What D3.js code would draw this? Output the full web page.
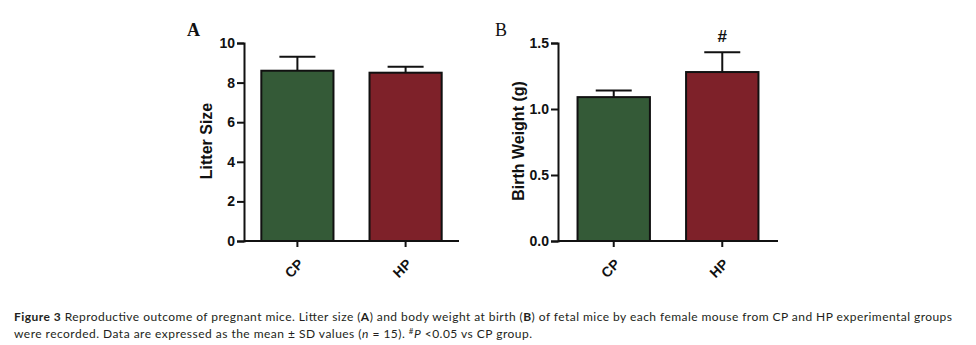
<!DOCTYPE html>
<html>
<head>
<meta charset="utf-8">
<script src="https://cdn.jsdelivr.net/npm/d3@7"></script>
<style>
  body { margin: 0; background: #fff; }
  svg { display: block; }
</style>
</head>
<body>
<script>
// data
const groups = ["CP", "HP"];
const litterMean = [8.6, 8.5];
const litterSD = [0.7, 0.3];
const weightMean = [1.09, 1.28];
const weightSD = [0.05, 0.15];
const litterTicks = [0, 2, 4, 6, 8, 10];
const weightTicks = [0, 0.5, 1.0, 1.5];
const barColors = ["#345a37", "#7e2129"];
const signif = ["", "#"];

const sans = "'Liberation Sans', Arial, sans-serif";

const svg = d3.select("body").append("svg")
    .attr("width", 976)
    .attr("height", 345);

function drawPanel(p) {
    const x = d3.scaleBand().domain(groups)
        .range([p.left, p.right])
        .paddingInner(0.333)
        .paddingOuter(p.outer);
    const y = d3.scaleLinear().domain(p.domain).range([241, 43]);
    const g = svg.append("g");

    // bars
    g.selectAll("rect.bar").data(groups).enter()
        .append("rect")
        .attr("class", "bar")
        .attr("x", d => x(d))
        .attr("y", (d, i) => y(p.mean[i]))
        .attr("width", x.bandwidth())
        .attr("height", (d, i) => y(0) - y(p.mean[i]))
        .attr("fill", (d, i) => barColors[i])
        .attr("stroke", "#111")
        .attr("stroke-width", 2);

    // error bars (upper only)
    const eb = g.selectAll("g.err").data(groups).enter().append("g").attr("class", "err");
    eb.append("line")
        .attr("x1", d => x(d) + x.bandwidth() / 2)
        .attr("x2", d => x(d) + x.bandwidth() / 2)
        .attr("y1", (d, i) => y(p.mean[i]))
        .attr("y2", (d, i) => y(p.mean[i] + p.sd[i]))
        .attr("stroke", "#111").attr("stroke-width", 2);
    eb.append("line")
        .attr("x1", d => x(d) + x.bandwidth() / 2 - 18)
        .attr("x2", d => x(d) + x.bandwidth() / 2 + 18)
        .attr("y1", (d, i) => y(p.mean[i] + p.sd[i]))
        .attr("y2", (d, i) => y(p.mean[i] + p.sd[i]))
        .attr("stroke", "#111").attr("stroke-width", 2);

    // significance marks
    if (p.showSig) {
        g.selectAll("text.sig").data(groups).enter()
            .append("text")
            .attr("class", "sig")
            .attr("x", d => x(d) + x.bandwidth() / 2)
            .attr("y", (d, i) => y(p.mean[i] + p.sd[i]) - 10)
            .attr("text-anchor", "middle")
            .style("font-family", sans)
            .style("font-weight", "bold")
            .style("font-size", "17px")
            .style("fill", "#111")
            .text((d, i) => signif[i]);
    }

    // y axis
    const yAxis = d3.axisLeft(y).tickValues(p.ticks).tickSize(7).tickPadding(2)
        .tickFormat(p.fmt);
    const ya = g.append("g").attr("transform", `translate(${p.left},0)`).call(yAxis);
    ya.select(".domain").attr("stroke", "#111").attr("stroke-width", 2);
    ya.selectAll(".tick line").attr("stroke", "#111").attr("stroke-width", 2);
    ya.selectAll(".tick text")
        .style("font-family", sans)
        .style("font-weight", "bold")
        .style("font-size", "14px")
        .style("fill", "#111");

    // x axis
    const xAxis = d3.axisBottom(x).tickSize(6).tickFormat("");
    const xa = g.append("g").attr("transform", `translate(0,${y(0)})`).call(xAxis);
    xa.select(".domain").attr("d", `M${p.left},0H${p.right}`).attr("stroke", "#111").attr("stroke-width", 2);
    xa.selectAll(".tick line").attr("stroke", "#111").attr("stroke-width", 2);

    g.selectAll("text.cat").data(groups).enter()
        .append("text")
        .attr("class", "cat")
        .attr("transform", d => `translate(${x(d) + x.bandwidth() / 2 + 7},${y(0) + 24}) rotate(-45)`)
        .attr("text-anchor", "end")
        .style("font-family", sans)
        .style("font-weight", "bold")
        .style("font-size", "14px")
        .style("fill", "#111")
        .text(d => d);

    // y label
    g.append("text")
        .attr("transform", `translate(${p.labelX},141) rotate(-90)`)
        .attr("text-anchor", "middle")
        .style("font-family", sans)
        .style("font-weight", "bold")
        .style("font-size", "16px")
        .style("fill", "#111")
        .text(p.label);

    // panel letter
    g.append("text")
        .attr("x", p.letterX)
        .attr("y", 36)
        .style("font-family", "'Liberation Serif', 'Times New Roman', serif")
        .style("font-weight", p.letterBold ? "bold" : "normal")
        .style("font-size", "18px")
        .style("fill", "#111")
        .text(p.letter);
}

drawPanel({
    left: 244, right: 459, outer: 0.16,
    domain: [0, 10], ticks: litterTicks, fmt: d3.format("d"),
    mean: litterMean, sd: litterSD, showSig: false,
    label: "Litter Size", labelX: 212,
    letter: "A", letterX: 187, letterBold: true
});

drawPanel({
    left: 558, right: 778, outer: 0.18,
    domain: [0, 1.5], ticks: weightTicks, fmt: d3.format(".1f"),
    mean: weightMean, sd: weightSD, showSig: true,
    label: "Birth Weight (g)", labelX: 524,
    letter: "B", letterX: 495, letterBold: false
});

// caption
const cap = svg.append("g")
    .style("font-family", "Lato, 'Open Sans', sans-serif")
    .style("font-size", "12px")
    .style("fill", "#231f20");

const line1 = cap.append("text").attr("x", 14).attr("y", 321)
    .attr("textLength", 938).attr("lengthAdjust", "spacing");
line1.append("tspan").style("font-weight", "bold").text("Figure 3");
line1.append("tspan").text(" Reproductive outcome of pregnant mice. Litter size (");
line1.append("tspan").style("font-weight", "bold").text("A");
line1.append("tspan").text(") and body weight at birth (");
line1.append("tspan").style("font-weight", "bold").text("B");
line1.append("tspan").text(") of fetal mice by each female mouse from CP and HP experimental groups");

const line2 = cap.append("text").attr("x", 14).attr("y", 338)
    .attr("textLength", 518).attr("lengthAdjust", "spacing");
line2.append("tspan").text("were recorded. Data are expressed as the mean \u00b1 SD values (");
line2.append("tspan").style("font-style", "italic").text("n");
line2.append("tspan").text(" = 15). ");
line2.append("tspan").attr("dy", -4).style("font-size", "8px").text("#");
line2.append("tspan").attr("dy", 4).style("font-style", "italic").text("P");
line2.append("tspan").text(" <0.05 vs CP group.");
</script>
</body>
</html>
